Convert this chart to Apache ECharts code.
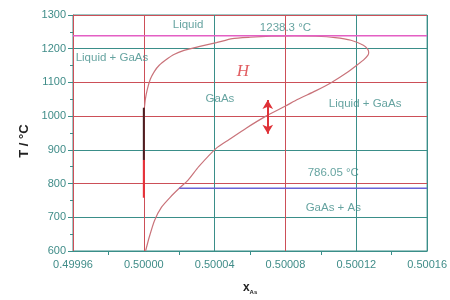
<!DOCTYPE html>
<html>
<head>
<meta charset="utf-8">
<script src="https://cdn.jsdelivr.net/npm/echarts@6/dist/echarts.min.js"></script>
<style>
  html, body { margin: 0; padding: 0; background: #fff; }
  #main { width: 450px; height: 300px; }
</style>
</head>
<body>
<div id="main"></div>
<script>
// GaAs existence region (x_As, T in degC):
// lower branch up to the nose, over the 1238.3 maximum, back down to x = 0.5
const boundaryX = [0.500001, 0.500003, 0.500006, 0.50001, 0.500015, 0.50002, 0.500025, 0.500031,
  0.500041, 0.500048, 0.500058, 0.500069, 0.50008, 0.500087, 0.500097, 0.500106, 0.500115,
  0.500121, 0.500124, 0.5001265, 0.500127, 0.5001265, 0.500124, 0.500117, 0.500108, 0.500097,
  0.500085, 0.500072, 0.50006, 0.50005, 0.500041, 0.500031, 0.5000227, 0.500017, 0.5000127,
  0.5000087, 0.500006, 0.5000037, 0.500002, 0.5000009, 0.5000004];
const boundaryT = [600, 640, 690, 730, 760, 786, 810, 850,
  905, 930, 965, 1000, 1030, 1050, 1075, 1100, 1130,
  1154, 1166, 1180, 1189, 1198, 1210, 1225, 1233, 1237,
  1238.3, 1237, 1234, 1230, 1218, 1206, 1195, 1183, 1168,
  1151, 1133, 1110, 1080, 1051, 1028];

// stoichiometric composition segment
const stoichX = 0.5;
const stoichDarkT = [1025, 870];
const stoichRedT = [870, 758];

const liquidusT = 1238.3;
const eutecticT = 786.05;
const eutecticX = [0.50002, 0.50016];

const arrowX = 0.50007;
const arrowT = [1048, 948];

// text labels in data coordinates
const labelText = ['Liquid', '1238.3 °C', 'Liquid + GaAs', 'H', 'GaAs', 'Liquid + GaAs', '786.05 °C', 'GaAs + As'];
const labelX = [0.500025, 0.50008, 0.4999615, 0.500056, 0.500043, 0.500125, 0.500107, 0.500107];
const labelT = [1271, 1262, 1174, 1133, 1051, 1036, 831, 729];

const xMin = 0.49996, xMax = 0.50016, xStep = 0.00004;
const yMin = 600, yMax = 1300, yStep = 100;

// x plotted as offset from 0.5 in units of 1e-5 to keep ticks exact
const sx = x => (x - 0.5) * 1e5;

const teal = '#3a8e89';
const red = '#cc4f58';
const labelColor = '#3f8c88';

const chart = echarts.init(document.getElementById('main'));

const labelData = labelText.map((t, i) => {
  const item = { name: t, value: [sx(labelX[i]), labelT[i]] };
  if (t === 'H') {
    item.label = { color: '#d9343a', fontFamily: 'Liberation Serif', fontStyle: 'italic', fontSize: 17 };
  }
  if (i === 2) {
    item.label = { align: 'left' };
  }
  return item;
});

chart.setOption({
  animation: false,
  backgroundColor: '#fff',
  grid: { left: 73, right: 20, top: 15, bottom: 46, show: true, borderColor: teal, borderWidth: 1 },
  xAxis: {
    type: 'value',
    min: sx(xMin), max: sx(xMax), interval: xStep * 1e5,
    name: '{b|x}{s|As}',
    nameLocation: 'middle',
    nameGap: 30,
    nameTextStyle: {
      rich: {
        b: { fontFamily: 'Liberation Sans', fontWeight: 'bold', fontSize: 12, color: '#222' },
        s: { fontFamily: 'Liberation Sans', fontWeight: 'bold', fontSize: 6, color: '#222', padding: [8, 0, 0, 0] }
      }
    },
    axisLine: { onZero: false, lineStyle: { color: teal } },
    axisTick: { show: false },
    minorTick: { show: true, splitNumber: 2, length: 4, lineStyle: { color: teal } },
    axisLabel: {
      color: labelColor, fontFamily: 'Liberation Sans', fontSize: 11, margin: 8,
      formatter: v => (0.5 + v / 1e5).toFixed(5)
    },
    splitLine: { show: true, lineStyle: { color: [teal, red, teal, red, teal, teal] } }
  },
  yAxis: {
    type: 'value',
    min: yMin, max: yMax, interval: yStep,
    name: 'T / °C',
    nameLocation: 'middle',
    nameRotate: 90,
    nameGap: 40,
    nameTextStyle: {
      fontFamily: 'Liberation Sans', fontWeight: 'bold', fontSize: 13, color: '#222',
      padding: [0, 16, 0, 0]
    },
    axisLine: { show: true, onZero: false, lineStyle: { color: red } },
    axisTick: { show: true, length: 5, lineStyle: { color: teal } },
    minorTick: { show: true, splitNumber: 2, length: 3, lineStyle: { color: teal } },
    axisLabel: { color: labelColor, fontFamily: 'Liberation Sans', fontSize: 11, margin: 7, formatter: v => String(v) },
    splitLine: { show: true, lineStyle: { color: [teal, teal, red, teal, red, red, teal, red] } }
  },
  series: [
    {
      type: 'line',
      data: boundaryX.map((x, i) => [sx(x), boundaryT[i]]),
      smooth: 0.2,
      showSymbol: false,
      lineStyle: { color: '#c9737a', width: 1.2 },
      z: 3
    },
    {
      type: 'line',
      data: [[sx(xMin), liquidusT], [sx(xMax), liquidusT]],
      showSymbol: false,
      lineStyle: { color: '#e45fc4', width: 1.5 },
      z: 4
    },
    {
      type: 'line',
      data: eutecticX.map(x => [sx(x), eutecticT]),
      showSymbol: false,
      lineStyle: { color: '#6a63d6', width: 1.5 },
      z: 4
    },
    {
      type: 'line',
      data: stoichDarkT.map(t => [sx(stoichX), t]),
      showSymbol: false,
      lineStyle: { color: '#4a1f22', width: 2 },
      z: 5
    },
    {
      type: 'line',
      data: stoichRedT.map(t => [sx(stoichX), t]),
      showSymbol: false,
      lineStyle: { color: '#e8323a', width: 2 },
      z: 5
    },
    {
      type: 'line',
      data: [],
      markLine: {
        silent: true,
        symbol: ['arrow', 'arrow'],
        symbolSize: [8, 9],
        label: { show: false },
        lineStyle: { color: '#df3238', width: 2, type: 'solid' },
        data: [[{ coord: [sx(arrowX), arrowT[0]] }, { coord: [sx(arrowX), arrowT[1]] }]]
      },
      z: 6
    },
    {
      type: 'scatter',
      symbolSize: 0,
      data: labelData,
      label: {
        show: true,
        position: 'inside',
        formatter: p => p.name,
        color: labelColor,
        fontFamily: 'Liberation Sans',
        fontSize: 11.5
      },
      z: 7
    }
  ]
});
</script>
</body>
</html>
